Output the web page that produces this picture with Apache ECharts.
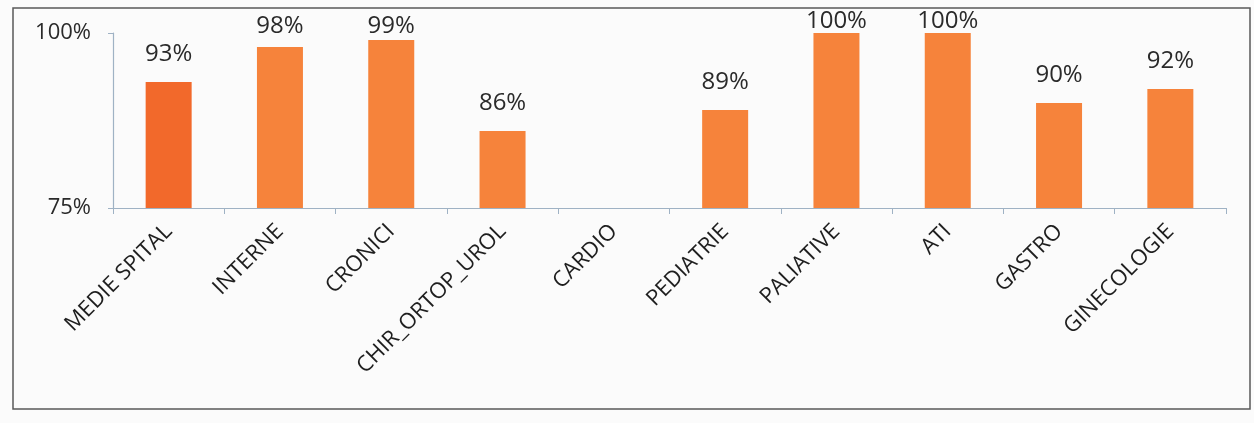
<!DOCTYPE html>
<html>
<head>
<meta charset="utf-8">
<script src="https://cdn.jsdelivr.net/npm/echarts@6/dist/echarts.min.js"></script>
<style>
html,body{margin:0;padding:0;background:#fbfbfb;}
#c{width:1254px;height:423px;}
</style>
</head>
<body>
<div id="c"></div>
<script>
var categories = ['MEDIE SPITAL','INTERNE','CRONICI','CHIR_ORTOP_UROL','CARDIO','PEDIATRIE','PALIATIVE','ATI','GASTRO','GINECOLOGIE'];
var values = [93, 98, 99, 86, null, 89, 100, 100, 90, 92];
var yTicks = [75, 100];

var yMin = 75, yMax = 100;
var gridTop = 33, gridBottom = 215, plotH = 423 - gridTop - gridBottom;

var data = values.map(function (v, i) {
  if (v === null) return { value: null };
  var barTop = gridTop + (yMax - v) / (yMax - yMin) * plotH;
  var dist = Math.max(0, Math.min(16, barTop - 18 - 20));
  return {
    value: v,
    itemStyle: { color: i === 0 ? '#F2692B' : '#F6833B' },
    label: { distance: dist }
  };
});

var chart = echarts.init(document.getElementById('c'));
chart.setOption({
  backgroundColor: '#fbfbfb',
  animation: false,
  graphic: [{
    type: 'rect',
    shape: { x: 13, y: 8, width: 1237, height: 401 },
    style: { fill: 'none', stroke: '#5a5a5a', lineWidth: 1.5 },
    z: -1
  }],
  grid: { left: 113, right: 28, top: gridTop, bottom: gridBottom },
  xAxis: {
    type: 'category',
    data: categories,
    boundaryGap: true,
    axisLine: { show: true, lineStyle: { color: '#9fb2c4', width: 1.2 } },
    axisTick: { show: true, length: 6, lineStyle: { color: '#9fb2c4' } },
    axisLabel: {
      rotate: 45,
      interval: 0,
      margin: 20,
      fontFamily: 'Open Sans',
      fontSize: 22,
      color: '#1e1e1e'
    }
  },
  yAxis: {
    type: 'value',
    min: yMin,
    max: yMax,
    interval: yTicks[1] - yTicks[0],
    axisLine: { show: true, lineStyle: { color: '#9fb2c4', width: 1.2 } },
    axisTick: { show: true, length: 5, lineStyle: { color: '#9fb2c4' } },
    splitLine: { show: false },
    axisLabel: {
      margin: 22,
      fontFamily: 'Open Sans',
      fontSize: 22,
      color: '#2a2a2a',
      formatter: function (v) { return v + '%'; }
    }
  },
  series: [{
    type: 'bar',
    data: data,
    barWidth: 46,
    label: {
      show: true,
      position: 'top',
      fontFamily: 'Open Sans',
      fontSize: 24,
      color: '#2a2a2a',
      formatter: function (p) { return p.value + '%'; }
    }
  }]
});
</script>
</body>
</html>
